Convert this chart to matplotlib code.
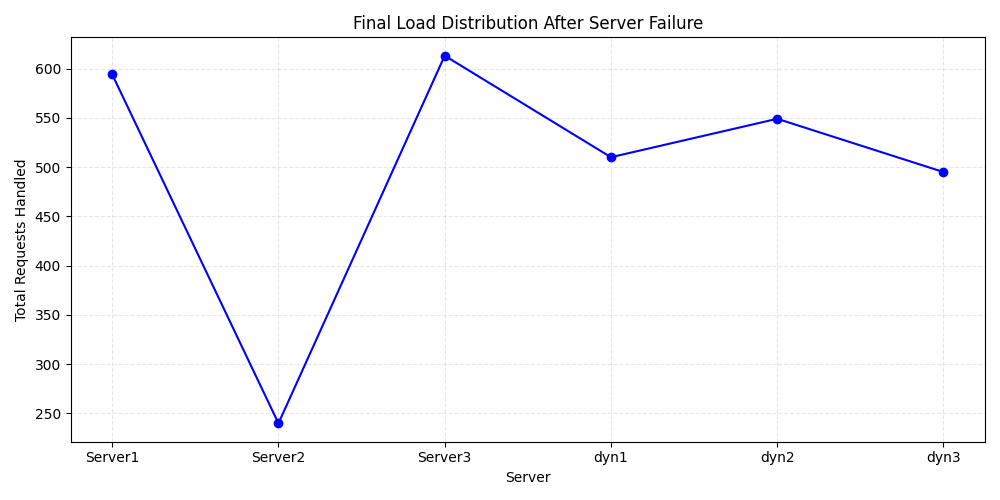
import matplotlib.pyplot as plt

# Load per server after the failure
servers = ["Server1", "Server2", "Server3", "dyn1", "dyn2", "dyn3"]
requests = [594, 240, 613, 510, 549, 495]

fig, ax = plt.subplots(figsize=(10, 5), dpi=100)
ax.plot(servers, requests, marker="o", color="blue")
ax.set_title("Final Load Distribution After Server Failure")
ax.set_xlabel("Server")
ax.set_ylabel("Total Requests Handled")
ax.grid(True, linestyle="--", alpha=0.3)

plt.tight_layout()
plt.savefig("out.png")
